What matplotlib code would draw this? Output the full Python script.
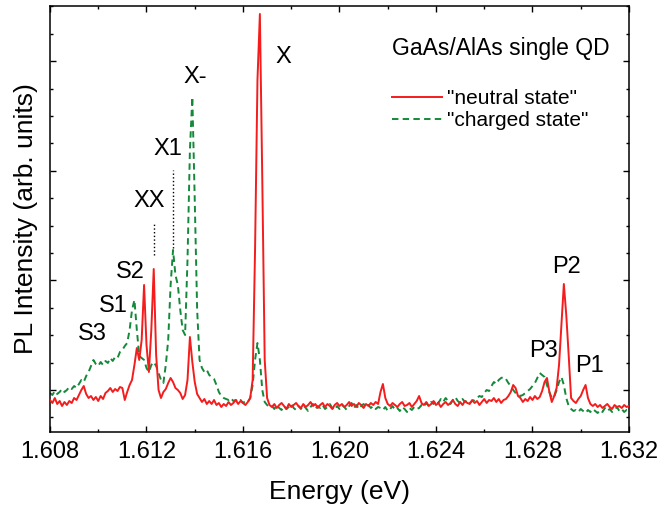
import numpy as np
from matplotlib import pyplot as plt
from matplotlib.ticker import MultipleLocator

# spectrometer channels: 1.6080 ... 1.6320 eV, 0.1 meV step
e_start = 1.608
e_step = 0.0001

neutral = [40, 37, 42, 36, 39, 34, 38, 35, 39, 37, 42, 40,
           45, 50, 54, 46, 42, 44, 40, 43, 39, 44, 41, 47, 49,
           52, 48, 51, 49, 53, 52, 40, 48, 55, 60,
           75, 92, 80, 100, 155, 95, 68, 110, 171, 85, 50,
           42, 48, 51, 57, 62, 58, 52, 50, 47, 41, 45, 60,
           103, 78, 58, 46, 42,
           38, 41, 36, 39, 36, 40, 35, 37, 33, 36, 34, 38, 35, 37, 40, 36, 39, 37, 35, 38, 42,
           60, 190, 360, 426, 260, 80, 42, 35,
           33, 36, 32, 35, 37, 34, 31, 36, 33, 35,
           37, 34, 32, 36, 33, 35, 38, 34, 36, 32,
           35, 37, 33, 36, 34, 31, 35, 37, 34, 36,
           33, 35, 38, 34, 36, 33, 37, 35, 32, 36,
           34, 37, 35, 38, 36,
           48, 56, 42,
           36, 34, 37, 35, 33, 36, 38, 34, 35, 37, 33, 36, 39,
           44,
           37, 35, 38, 34, 36, 39, 35, 37, 33, 36, 38, 35, 37, 40, 36,
           34, 38, 35, 39, 37, 36, 40, 37, 39, 35, 38, 41, 37, 40, 39,
           42, 38, 41, 37, 40, 41, 44, 48, 55, 52, 44, 42, 38, 41, 39, 43, 40, 44, 41, 43,
           49, 58, 62, 48, 38, 44, 52, 75, 115, 156, 125, 85, 42, 39, 37, 41, 44, 50, 55, 42, 36,
           34, 36, 33, 35, 32, 34, 36, 33, 31, 35, 33, 34, 32, 35, 33, 34]

charged = [47, 45, 49, 46, 48, 51, 48, 50, 53, 51, 54, 52,
           56, 60, 58, 64, 68, 74, 80, 76, 74, 78, 75, 79, 77,
           82, 79, 83, 82, 88, 90, 94, 97, 110, 130,
           140, 110, 84, 82, 80, 72, 68, 75, 78, 74, 67,
           60, 57, 75, 100, 155, 190, 165, 155, 130, 110, 105, 180,
           290, 343, 240, 130, 80,
           72, 68, 70, 65, 63, 61, 55, 48, 44, 42, 41, 40, 42, 39, 40, 38, 40, 37, 39, 38, 42,
           55, 80, 97, 80, 50, 38, 35, 33,
           34, 31, 35, 32, 30, 34, 31, 33, 36, 32,
           30, 34, 31, 35, 32, 29, 33, 36, 31, 34,
           32, 35, 31, 33, 36, 32, 30, 34, 31, 35,
           33, 30, 34, 37, 32, 35, 31, 34, 36, 33,
           35, 32, 34, 31, 33,
           32, 30, 33, 29, 31, 34, 30, 32, 29, 33, 31, 28, 32, 30, 33, 31,
           32, 35, 33, 37, 34, 38, 36, 40, 37, 41, 38, 42, 39, 36, 40, 43, 39, 37, 41, 38, 40, 37, 39,
           40, 42, 44, 43, 47, 50, 49, 54, 58, 56, 60, 62, 63, 61, 57, 54, 50, 47, 46, 44, 45,
           47, 49, 51, 54, 57, 62, 67, 65, 63, 55, 48, 42, 43, 50, 58, 63, 55, 42, 34, 31, 29, 30,
           28, 31, 29, 27, 30, 28, 31, 29, 27, 30, 28, 32, 29, 31, 28, 30, 33, 29, 31, 28, 30, 29]

energy = np.round(e_start + e_step * np.arange(len(neutral)), 4)

# peak labels (text, energy, intensity of baseline)
peak_names = ["X", "X-", "X1", "XX", "S2", "S1", "S3", "P2", "P3", "P1"]
peak_e = [1.61766, 1.61403, 1.61289, 1.61212, 1.61134, 1.61061, 1.60974, 1.62939, 1.62844, 1.63038]
peak_y = [377, 357, 285, 233, 162, 128, 100, 167, 83, 68]

plt.rcParams['font.family'] = ['Liberation Sans', 'DejaVu Sans']

fig = plt.figure(figsize=(6.63, 5.11), dpi=100)
ax = fig.add_axes([0.0754, 0.1546, 0.8733, 0.8337])

red = '#f41c1c'
green = '#14893a'
ax.plot(energy, neutral, color=red, lw=1.4, label='"neutral state"', zorder=3)
ax.plot(energy, charged, color=green, lw=1.4, ls=(0, (3.3, 2.2)), label='"charged state"', zorder=2)

# dotted guides above XX (neutral) and X1 (charged) peaks
neu = np.array(neutral)
chg = np.array(charged)
i_xx = 40 + np.argmax(neu[40:46])
i_x1 = 48 + np.argmax(chg[48:56])
ax.plot([energy[i_xx]] * 2, [neu[i_xx] + 14, neu[i_xx] + 47], color='k', ls=':', lw=1)
ax.plot([energy[i_x1]] * 2, [chg[i_x1] + 2, chg[i_x1] + 80], color='k', ls=':', lw=1)

for name, e, y in zip(peak_names, peak_e, peak_y):
    ax.text(e, y, name, fontsize=17, ha='center', va='baseline')

ax.text(0.591, 0.901, "GaAs/AlAs single QD", transform=ax.transAxes, fontsize=16.5, va='center')
leg = ax.legend(loc='upper left', bbox_to_anchor=(0.591, 0.826), bbox_transform=fig.transFigure,
                frameon=False, fontsize=15, handlelength=2.4, handletextpad=0.25,
                labelspacing=0.15, borderpad=0, borderaxespad=0)

ax.set_xlim(1.608, 1.632)
ax.set_ylim(8, 434)
ax.xaxis.set_major_locator(MultipleLocator(0.004))
ax.xaxis.set_minor_locator(MultipleLocator(0.002))
ax.yaxis.set_major_locator(MultipleLocator(109.6, offset=50))
ax.yaxis.set_minor_locator(MultipleLocator(27.4, offset=50))
ax.xaxis.set_major_formatter(plt.FormatStrFormatter('%.3f'))
ax.tick_params(which='both', direction='in', top=True, right=True, width=1)
ax.tick_params(which='major', length=4)
ax.tick_params(which='minor', length=2.2)
ax.tick_params(axis='x', labelsize=17, pad=6.5)
ax.tick_params(axis='y', labelleft=False)
for s in ax.spines.values():
    s.set_linewidth(1.1)

ax.set_xlabel("Energy (eV)", fontsize=19, labelpad=12)
ax.set_ylabel("PL Intensity (arb. units)", fontsize=19, labelpad=5)

fig.savefig("out.png", dpi=100)
